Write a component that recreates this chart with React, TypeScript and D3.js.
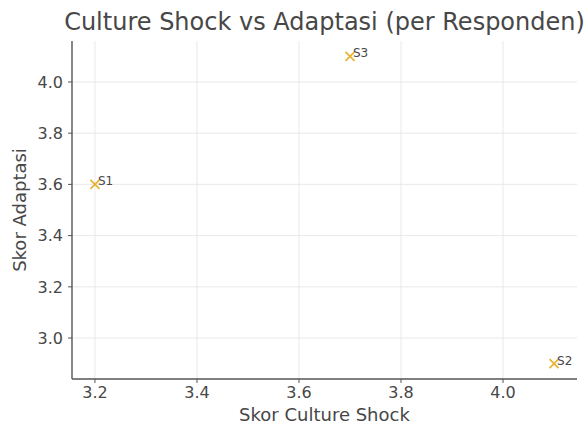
import React from "react";
import * as d3 from "d3";

const labels = ["S1", "S2", "S3"];
const cultureShock = [3.2, 4.1, 3.7];
const adaptasi = [3.6, 2.9, 4.1];
const xTicks = [3.2, 3.4, 3.6, 3.8, 4.0];
const yTicks = [3.0, 3.2, 3.4, 3.6, 3.8, 4.0];

const W = 588;
const H = 428;
const M = { left: 72, right: 11, top: 41, bottom: 49 };

export default function App() {
  const xExt = d3.extent(cultureShock) as [number, number];
  const yExt = d3.extent(adaptasi) as [number, number];
  const xPad = (xExt[1] - xExt[0]) * 0.05;
  const yPad = (yExt[1] - yExt[0]) * 0.05;
  const x = d3.scaleLinear().domain([xExt[0] - xPad, xExt[1] + xPad]).range([M.left, W - M.right]);
  const y = d3.scaleLinear().domain([yExt[0] - yPad, yExt[1] + yPad]).range([H - M.bottom, M.top]);
  const font = "DejaVu Sans, sans-serif";
  const txt = "#474747";
  const axisC = "#555";
  const gridC = "#e6e6e6";
  const mk = "#e8b232";
  const s = 4.5;
  return (
    <svg width={W} height={H} style={{ position: "absolute", left: 0, top: 0, background: "#fff" }} fontFamily={font}>
      {xTicks.map((t) => (
        <line key={"gx" + t} x1={x(t)} x2={x(t)} y1={M.top} y2={H - M.bottom} stroke={gridC} strokeWidth={0.9} />
      ))}
      {yTicks.map((t) => (
        <line key={"gy" + t} x1={M.left} x2={W - M.right} y1={y(t)} y2={y(t)} stroke={gridC} strokeWidth={0.9} />
      ))}
      <line x1={M.left} x2={M.left} y1={M.top} y2={H - M.bottom} stroke={axisC} strokeWidth={1.4} />
      <line x1={M.left} x2={W - M.right} y1={H - M.bottom} y2={H - M.bottom} stroke={axisC} strokeWidth={1.4} />
      {xTicks.map((t) => (
        <g key={"tx" + t}>
          <line x1={x(t)} x2={x(t)} y1={H - M.bottom} y2={H - M.bottom + 4} stroke={axisC} strokeWidth={1} />
          <text x={x(t)} y={H - M.bottom + 19} textAnchor="middle" fontSize={16} fill={txt}>
            {t.toFixed(1)}
          </text>
        </g>
      ))}
      {yTicks.map((t) => (
        <g key={"ty" + t}>
          <line x1={M.left - 4} x2={M.left} y1={y(t)} y2={y(t)} stroke={axisC} strokeWidth={1} />
          <text x={M.left - 9} y={y(t)} dy="0.36em" textAnchor="end" fontSize={16} fill={txt}>
            {t.toFixed(1)}
          </text>
        </g>
      ))}
      {labels.map((l, i) => {
        const px = x(cultureShock[i]);
        const py = y(adaptasi[i]);
        return (
          <g key={l}>
            <path d={`M${px - s},${py - s}L${px + s},${py + s}M${px - s},${py + s}L${px + s},${py - s}`} stroke={mk} strokeWidth={1.7} />
            <text x={px + 3} y={py + 1} fontSize={12} fill={txt}>
              {l}
            </text>
          </g>
        );
      })}
      <text x={(M.left + W - M.right) / 2} y={30} textAnchor="middle" fontSize={24} fill={txt}>
        Culture Shock vs Adaptasi (per Responden)
      </text>
      <text x={(M.left + W - M.right) / 2} y={421} textAnchor="middle" fontSize={18} fill={txt}>
        Skor Culture Shock
      </text>
      <text transform={`translate(26,${(M.top + H - M.bottom) / 2}) rotate(-90)`} textAnchor="middle" fontSize={18} fill={txt}>
        Skor Adaptasi
      </text>
    </svg>
  );
}
